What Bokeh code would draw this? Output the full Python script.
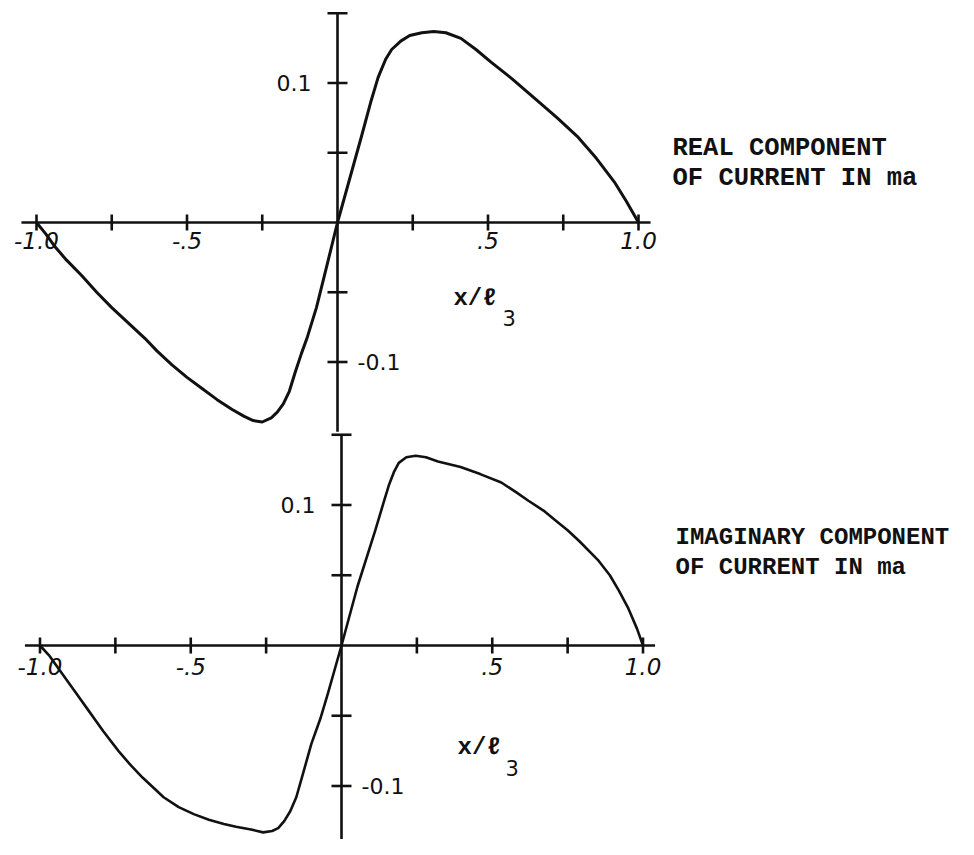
from bokeh.plotting import figure
from bokeh.models import Range1d
from bokeh.core.properties import value
from bokeh.embed import file_html
from bokeh.resources import INLINE
import math

# ---------------- data ----------------
real_x = [-1.00, -0.97, -0.94, -0.90, -0.85, -0.80, -0.75, -0.69, -0.64, -0.60, -0.55,
          -0.50, -0.45, -0.40, -0.35, -0.31, -0.28, -0.25, -0.22, -0.20, -0.18, -0.16,
          -0.14, -0.12, -0.10, -0.07, -0.04, 0.0, 0.04, 0.08, 0.11, 0.135, 0.16, 0.18,
          0.21, 0.24, 0.28, 0.32, 0.36, 0.41, 0.46, 0.51, 0.58, 0.66, 0.73, 0.80, 0.86,
          0.92, 0.96, 1.00]
real_y = [0.000, -0.008, -0.017, -0.027, -0.038, -0.050, -0.061, -0.073, -0.083, -0.092, -0.102,
          -0.111, -0.119, -0.127, -0.134, -0.139, -0.142, -0.143, -0.140, -0.136, -0.130, -0.121,
          -0.107, -0.094, -0.082, -0.061, -0.035, 0.000, 0.031, 0.062, 0.086, 0.104, 0.117, 0.124,
          0.130, 0.134, 0.136, 0.137, 0.136, 0.132, 0.124, 0.115, 0.103, 0.088, 0.075, 0.061, 0.046,
          0.029, 0.015, 0.000]

imag_x = [-1.00, -0.97, -0.94, -0.89, -0.84, -0.79, -0.74, -0.70, -0.66, -0.62, -0.59,
          -0.54, -0.49, -0.44, -0.39, -0.35, -0.30, -0.26, -0.23, -0.21, -0.19, -0.17,
          -0.15, -0.13, -0.10, -0.07, -0.045, 0.0, 0.053, 0.112, 0.14, 0.157, 0.175, 0.19,
          0.215, 0.246, 0.28, 0.32, 0.395, 0.46, 0.53, 0.58, 0.62, 0.67, 0.71, 0.75, 0.79,
          0.85, 0.89, 0.92, 0.95, 0.98, 1.00]
imag_y = [0.000, -0.007, -0.016, -0.031, -0.046, -0.061, -0.075, -0.085, -0.094, -0.102, -0.108,
          -0.115, -0.120, -0.124, -0.127, -0.129, -0.131, -0.133, -0.132, -0.130, -0.125, -0.118,
          -0.108, -0.093, -0.070, -0.052, -0.034, 0.000, 0.042, 0.082, 0.102, 0.114, 0.124, 0.130,
          0.134, 0.135, 0.134, 0.131, 0.127, 0.122, 0.116, 0.109, 0.103, 0.096, 0.089, 0.082, 0.074,
          0.061, 0.050, 0.039, 0.027, 0.012, 0.000]

x_ticks = [-1.0, -0.75, -0.5, -0.25, 0.25, 0.5, 0.75, 1.0]
y_ticks = [0.15, 0.1, 0.05, -0.05, -0.1]
x_tick_vals = [-1.0, -0.5, 0.5, 1.0]
x_tick_labels = ["-1.0", "-.5", ".5", "1.0"]
y_pos_val, y_pos_label = 0.1, "0.1"
y_neg_val, y_neg_label = -0.1, "-0.1"
x_axis_ext = [-1.05, 1.04]
y_axis_ext = [-0.15, 0.15]

title_top = ["REAL COMPONENT", "OF CURRENT IN ma"]
title_bot = ["IMAGINARY COMPONENT", "OF CURRENT IN ma"]
axis_name = "x/\u2113"
axis_sub = "3"

# ---------------- figure ----------------
p = figure(width=958, height=839, output_backend="svg", toolbar_location=None,
           x_axis_location=None, y_axis_location=None, min_border=0,
           x_range=Range1d(-1.1196, 2.0631), y_range=Range1d(-0.44229, 0.15914))
p.extra_x_ranges = {"xb": Range1d(-1.1310, 2.0464)}
p.extra_y_ranges = {"yb": Range1d(-0.13808, 0.45907)}
p.grid.visible = False
p.outline_line_color = None
p.background_fill_color = "white"
p.border_fill_color = "white"

INK = "#111111"
HAND = value("DejaVu Sans")
TYPE = value("Liberation Mono")


def panel(xr, yr, xs, ys, curve_w, xlab_dy, name_dy, sub_dy, name_x, sub_x,
          titles, title_x, title_dys, title_size):
    kw = {}
    if xr:
        kw["x_range_name"] = xr
    if yr:
        kw["y_range_name"] = yr
    # axes
    p.line(x=x_axis_ext, y=[0, 0], line_color=INK, line_width=2.6, **kw)
    p.line(x=[0, 0], y=y_axis_ext, line_color=INK, line_width=2.6, **kw)
    p.scatter(x=x_ticks, y=[0] * len(x_ticks), marker="dash", angle=math.pi / 2,
              size=16, line_color=INK, line_width=2.6, **kw)
    p.scatter(x=[0] * len(y_ticks), y=y_ticks, marker="dash", size=20,
              line_color=INK, line_width=2.6, **kw)
    # curve
    p.line(x=xs, y=ys, line_color=INK, line_width=curve_w, line_join="round", **kw)
    # tick labels
    p.text(x=x_tick_vals, y=[0] * len(x_tick_vals), text=x_tick_labels,
           text_font=HAND, text_font_size="23px", text_font_style="italic",
           text_align="center", text_baseline="top", y_offset=xlab_dy,
           text_color=INK, **kw)
    p.text(x=[0], y=[y_pos_val], text=[y_pos_label], text_font=HAND,
           text_font_size="22px", text_align="right", text_baseline="middle",
           x_offset=-26, text_color=INK, **kw)
    p.text(x=[0], y=[y_neg_val], text=[y_neg_label], text_font=HAND,
           text_font_size="22px", text_align="left", text_baseline="middle",
           x_offset=20, text_color=INK, **kw)
    # axis name
    p.text(x=[name_x], y=[0], text=[axis_name], text_font=TYPE, text_font_size="24px",
           text_font_style="bold", text_baseline="alphabetic", y_offset=name_dy,
           text_color=INK, **kw)
    p.text(x=[sub_x], y=[0], text=[axis_sub], text_font=HAND, text_font_size="21px",
           text_baseline="alphabetic", y_offset=sub_dy, text_color=INK, **kw)
    # side title
    p.text(x=[title_x] * len(titles), y=[0] * len(titles), text=titles,
           text_font=TYPE, text_font_size=title_size, text_font_style="bold",
           text_baseline="alphabetic", y_offset=title_dys, text_color=INK, **kw)


panel(None, None, real_x, real_y, 3.0, 9, 76, 95, 0.385, 0.548,
      title_top, 1.113, [-74, -44], "25.5px")
panel("xb", "yb", imag_x, imag_y, 2.6, 13, 102, 123, 0.385, 0.544,
      title_bot, 1.108, [-108, -78], "24px")

open("out.html", "w").write(file_html(p, INLINE))
